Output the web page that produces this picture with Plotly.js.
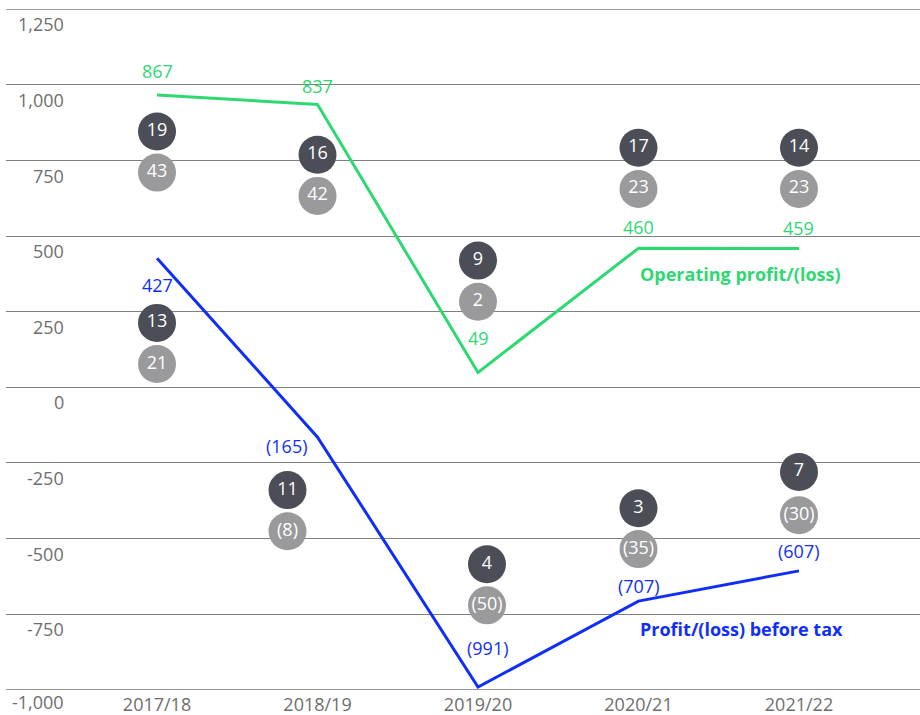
<!DOCTYPE html>
<html>
<head>
<meta charset="utf-8">
<script src="https://cdn.plot.ly/plotly-3.0.1.min.js"></script>
<style>html,body{margin:0;padding:0;background:#fff}#chart{width:920px;height:715px}</style>
</head>
<body>
<div id="chart"></div>
<script>
// ---- data ----
const years = ['2017/18', '2018/19', '2019/20', '2020/21', '2021/22'];
// operating profit line as plotted
const operatingProfit = [967, 935, 49, 460, 459];
// operating profit values as printed on the chart
const operatingProfitPrinted = [867, 837, 49, 460, 459];
const profitBeforeTax = [427, -165, -991, -707, -607];
// bubble figures
const upperDark = [19, 16, 9, 17, 14];
const upperGrey = [43, 42, 2, 23, 23];
const lowerDark = [13, 11, 4, 3, 7];
const lowerGrey = [21, -8, -50, -35, -30];
const yTicks = [1250, 1000, 750, 500, 250, 0, -250, -500, -750, -1000];

// ---- placement / style (not data) ----
const GREEN = '#2fd873', BLUE = '#0f2ff8', DARK = '#4b4e56', GREY = '#9a9a9c', TICK = '#6e6e6e';
const GRID = '#808080';
const FONT = 'Open Sans, sans-serif';
const place = {
  upperDarkY: [846, 769, 419, 792, 792],
  upperGreyY: [710, 633, 283, 656, 656],
  lowerDarkY: [213, -340, -585, -400, -280],
  lowerGreyY: [77, -476, -721, -535, -423],
  lowerDx: [0, -0.187, 0.056, 0, 0],
  greenShift: [[0, 24], [0, 19], [0, 34], [0, 21], [0, 21]],
  blueShift: [[0, -27], [-31, -9], [10, 39], [0, 15], [0, 19.5]]
};

const fmt = v => {
  const s = Math.abs(v).toLocaleString('en-US');
  return v < 0 ? '(' + s + ')' : s;
};
const fmtTick = v => (v < 0 ? '-' : '') + Math.abs(v).toLocaleString('en-US');
const xi = years.map((_, i) => i);

function bubbles(xs, ys, vals, color) {
  return {
    type: 'scatter', mode: 'markers+text', x: xs, y: ys,
    marker: {size: 38, color: color, line: {width: 0}},
    text: vals.map(fmt), textposition: 'middle center',
    textfont: {family: FONT, size: 18, color: '#ffffff'},
    hoverinfo: 'skip', cliponaxis: false
  };
}

const traces = [
  {type: 'scatter', mode: 'lines', x: xi, y: operatingProfit,
   line: {color: GREEN, width: 3}, hoverinfo: 'skip'},
  {type: 'scatter', mode: 'lines', x: xi, y: profitBeforeTax,
   line: {color: BLUE, width: 3}, hoverinfo: 'skip'},
  bubbles(xi, place.upperDarkY, upperDark, DARK),
  bubbles(xi, place.upperGreyY, upperGrey, GREY),
  bubbles(xi.map((x, i) => x + place.lowerDx[i]), place.lowerDarkY, lowerDark, DARK),
  bubbles(xi.map((x, i) => x + place.lowerDx[i]), place.lowerGreyY, lowerGrey, GREY)
];

const annotations = [];
xi.forEach((x, i) => {
  annotations.push({x: x, y: operatingProfit[i], xref: 'x', yref: 'y', showarrow: false,
    text: fmt(operatingProfitPrinted[i]), font: {family: FONT, size: 18, color: GREEN},
    xshift: place.greenShift[i][0], yshift: place.greenShift[i][1]});
  annotations.push({x: x, y: profitBeforeTax[i], xref: 'x', yref: 'y', showarrow: false,
    text: fmt(profitBeforeTax[i]), font: {family: FONT, size: 18, color: BLUE},
    xshift: place.blueShift[i][0], yshift: place.blueShift[i][1]});
});
// series names
annotations.push({x: 3, y: operatingProfit[3], xref: 'x', yref: 'y', showarrow: false,
  xanchor: 'left', xshift: -1, yshift: -26,
  text: '<b>Operating profit/(loss)</b>', font: {family: FONT, size: 18, color: GREEN}});
annotations.push({x: 3, y: profitBeforeTax[3], xref: 'x', yref: 'y', showarrow: false,
  xanchor: 'left', xshift: -1, yshift: -28,
  text: '<b>Profit/(loss) before tax</b>', font: {family: FONT, size: 18, color: BLUE}});
// y tick labels (drawn below each grid line)
yTicks.forEach((v, i) => {
  const last = i === yTicks.length - 1;
  annotations.push({x: 0.0653, y: v, xref: 'paper', yref: 'y', showarrow: false,
    xanchor: 'right', yanchor: 'middle', yshift: last ? -12 : -15, height: 20, valign: 'middle',
    text: fmtTick(v), font: {family: FONT, size: 18, color: TICK}});
});

// grid lines at the range edges (plotly omits them there)
const shapes = [yTicks[0], yTicks[yTicks.length - 1]].map(v => ({
  type: 'line', xref: 'paper', yref: 'y', x0: 0, x1: 1, y0: v, y1: v,
  line: {color: GRID, width: 1}, layer: 'below'
}));

const layout = {
  width: 920, height: 715,
  margin: {l: 6, r: 0, t: 9, b: 25, pad: 0},
  paper_bgcolor: '#ffffff', plot_bgcolor: '#ffffff',
  showlegend: false, hovermode: false,
  font: {family: FONT, size: 18, color: TICK},
  xaxis: {type: 'linear', range: [-0.941, 4.754], tickvals: xi, ticktext: years,
    showgrid: false, zeroline: false, showline: false, ticks: '', ticklabelstandoff: 2,
    tickfont: {family: FONT, size: 18, color: TICK}, fixedrange: true},
  yaxis: {range: [-1001, 1251], tickvals: yTicks, showticklabels: false,
    showgrid: true, gridcolor: GRID, gridwidth: 1, zeroline: false,
    showline: false, ticks: '', fixedrange: true},
  shapes: shapes,
  annotations: annotations
};

Plotly.newPlot('chart', traces, layout, {displayModeBar: false, staticPlot: true});
</script>
</body>
</html>
